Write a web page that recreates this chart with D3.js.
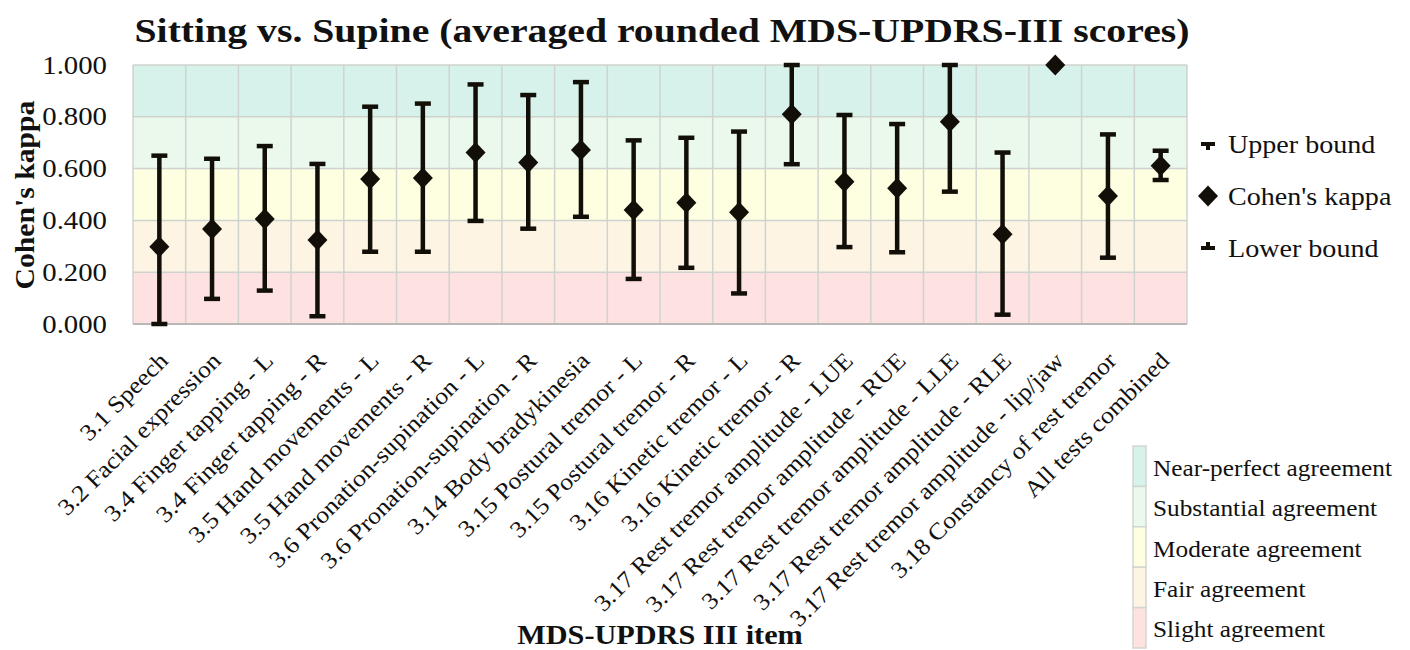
<!DOCTYPE html>
<html lang="en">

<head>
    <meta charset="utf-8" />
    <title>Sitting vs. Supine</title>
    <script src="https://cdn.jsdelivr.net/npm/d3@7"></script>

    <style>
        body {
            margin: 0;
            background: #fff;
        }

        text {
            font-family: "Liberation Serif", "Times New Roman", serif;
            fill: #111;
        }

        .axis path,
        .axis line {
            stroke: none;
        }
    </style>
</head>

<body>

</body>

<script>

    const categories = [
        '3.1 Speech', '3.2 Facial expression', '3.4 Finger tapping - L', '3.4 Finger tapping - R',
        '3.5 Hand movements - L', '3.5 Hand movements - R', '3.6 Pronation-supination - L',
        '3.6 Pronation-supination - R', '3.14 Body bradykinesia', '3.15 Postural tremor - L',
        '3.15 Postural tremor - R', '3.16 Kinetic tremor - L', '3.16 Kinetic tremor - R',
        '3.17 Rest tremor amplitude - LUE', '3.17 Rest tremor amplitude - RUE',
        '3.17 Rest tremor amplitude - LLE', '3.17 Rest tremor amplitude - RLE',
        '3.17 Rest tremor amplitude - lip/jaw', '3.18 Constancy of rest tremor', 'All tests combined'
    ];
    const kappa = [0.298, 0.367, 0.405, 0.324, 0.560, 0.564, 0.662, 0.624, 0.672, 0.440,
        0.468, 0.431, 0.810, 0.549, 0.524, 0.781, 0.347, 1.000, 0.494, 0.611];
    const lower = [0.000, 0.097, 0.129, 0.030, 0.279, 0.279, 0.398, 0.368, 0.414, 0.174,
        0.217, 0.118, 0.617, 0.297, 0.277, 0.511, 0.036, null, 0.256, 0.556];
    const upper = [0.650, 0.638, 0.687, 0.618, 0.839, 0.851, 0.925, 0.884, 0.934, 0.709,
        0.719, 0.743, 1.000, 0.807, 0.772, 1.000, 0.662, null, 0.732, 0.669];

    const yTicks = [0, 0.2, 0.4, 0.6, 0.8, 1.0];
    const bandLabels = ['Near-perfect agreement', 'Substantial agreement', 'Moderate agreement', 'Fair agreement', 'Slight agreement'];
    const bandFrom = [0.8, 0.6, 0.4, 0.2, 0.0];
    const bandTo = [1.0, 0.8, 0.6, 0.4, 0.2];
    const bandColors = ['#d7f2ea', '#ebf8ec', '#fefee0', '#fdf4e3', '#fee1e1'];

    const seriesLabels = ['Upper bound', "Cohen's kappa", 'Lower bound'];

    const width = 1410, height = 650;
    const plot = { left: 133, right: 1187, top: 65, bottom: 324 };
    const ink = '#120f08';

    // the source font is a wide Palatino-like serif: stretch glyphs a bit
    function widen(sel, f) {
        sel.each(function () {
            let w = this.getComputedTextLength();
            d3.select(this)
                .attr('textLength', w * f)
                .attr('lengthAdjust', 'spacingAndGlyphs');
        });
    }

    let svg = d3.select('body')
        .append('svg')
        .attr('width', width)
        .attr('height', height);

    let x = d3.scaleBand()
        .domain(categories)
        .range([plot.left, plot.right]);

    let y = d3.scaleLinear()
        .domain([0, 1])
        .range([plot.bottom, plot.top]);

    // agreement bands
    svg.selectAll('.band')
        .data(bandLabels)
        .enter().append('rect')
        .attr('class', 'band')
        .attr('x', plot.left)
        .attr('width', plot.right - plot.left)
        .attr('y', (d, i) => y(bandTo[i]))
        .attr('height', (d, i) => y(bandFrom[i]) - y(bandTo[i]))
        .style('fill', (d, i) => bandColors[i]);

    // grid
    svg.selectAll('.hgrid')
        .data(yTicks)
        .enter().append('line')
        .attr('x1', plot.left)
        .attr('x2', plot.right)
        .attr('y1', d => y(d))
        .attr('y2', d => y(d))
        .style('stroke', '#cfd3cf')
        .style('stroke-width', '1.5px');

    svg.selectAll('.vgrid')
        .data(categories.concat([null]))
        .enter().append('line')
        .attr('x1', (d, i) => plot.left + i * x.bandwidth())
        .attr('x2', (d, i) => plot.left + i * x.bandwidth())
        .attr('y1', plot.top)
        .attr('y2', plot.bottom)
        .style('stroke', '#cfd3cf')
        .style('stroke-width', '1.5px');

    svg.append('line')
        .attr('x1', plot.left)
        .attr('x2', plot.right)
        .attr('y1', plot.bottom)
        .attr('y2', plot.bottom)
        .style('stroke', '#b8b8b8')
        .style('stroke-width', '2px');

    // y axis
    let yAxis = d3.axisLeft(y)
        .tickValues(yTicks)
        .tickFormat(d3.format('.3f'))
        .tickSize(0)
        .tickPadding(26);

    svg.append('g')
        .attr('class', 'axis')
        .attr('transform', `translate(${plot.left},0)`)
        .call(yAxis)
        .selectAll('text')
        .style('font-size', '25px')
        .style('font-family', '"Liberation Serif", serif')
        .style('fill', '#111')
        .call(widen, 1.15);

    // x axis with rotated labels
    let xAxis = d3.axisBottom(x).tickSize(0);

    svg.append('g')
        .attr('class', 'axis')
        .attr('transform', `translate(0,${plot.bottom})`)
        .call(xAxis)
        .selectAll('text')
        .attr('x', 0)
        .attr('y', 0)
        .attr('dy', 0)
        .attr('transform', 'translate(10,38) rotate(-45)')
        .style('text-anchor', 'end')
        .style('font-size', '23.5px')
        .style('font-family', '"Liberation Serif", serif')
        .style('fill', '#111')
        .call(widen, 1.1);

    // error bars
    let cx = d => x(d) + x.bandwidth() / 2;
    let bars = svg.selectAll('.err')
        .data(categories.filter((d, i) => lower[i] !== null))
        .enter().append('g')
        .attr('class', 'err');

    bars.append('line')
        .attr('x1', cx)
        .attr('x2', cx)
        .attr('y1', d => y(lower[categories.indexOf(d)]))
        .attr('y2', d => y(upper[categories.indexOf(d)]))
        .style('stroke', ink)
        .style('stroke-width', '4.5px');

    [lower, upper].forEach(arr => {
        bars.append('line')
            .attr('x1', d => cx(d) - 8)
            .attr('x2', d => cx(d) + 8)
            .attr('y1', d => y(arr[categories.indexOf(d)]))
            .attr('y2', d => y(arr[categories.indexOf(d)]))
            .style('stroke', ink)
            .style('stroke-width', '4.5px');
    });

    // diamonds
    let diamond = (px, py) => `M${px},${py - 10.5}L${px + 10},${py}L${px},${py + 10.5}L${px - 10},${py}Z`;

    svg.selectAll('.kappa')
        .data(categories)
        .enter().append('path')
        .attr('class', 'kappa')
        .attr('d', (d, i) => diamond(cx(d), y(kappa[i])))
        .style('fill', ink);

    // title & axis titles
    svg.append('text')
        .attr('x', 662)
        .attr('y', 42)
        .attr('text-anchor', 'middle')
        .attr('textLength', 1055)
        .attr('lengthAdjust', 'spacingAndGlyphs')
        .style('font-size', '33px')
        .style('font-weight', 'bold')
        .text('Sitting vs. Supine (averaged rounded MDS-UPDRS-III scores)');

    svg.append('text')
        .attr('transform', 'translate(34,195) rotate(-90)')
        .attr('text-anchor', 'middle')
        .style('font-size', '28px')
        .style('font-weight', 'bold')
        .text("Cohen's kappa")
        .call(widen, 1.06);

    svg.append('text')
        .attr('x', 660)
        .attr('y', 644)
        .attr('text-anchor', 'middle')
        .style('font-size', '28px')
        .style('font-weight', 'bold')
        .text('MDS-UPDRS III item')
        .call(widen, 1.08);

    // series legend
    let sLeg = svg.selectAll('.sleg')
        .data(seriesLabels)
        .enter().append('g')
        .attr('class', 'sleg')
        .attr('transform', (d, i) => `translate(1208,${144 + i * 52})`);

    sLeg.append('text')
        .attr('x', 20)
        .attr('dy', '0.34em')
        .style('font-size', '26px')
        .text(d => d)
        .call(widen, 1.08);

    sLeg.filter((d, i) => i !== 1).append('line')
        .attr('x1', -7).attr('x2', 7)
        .attr('y1', 0).attr('y2', 0)
        .style('stroke', ink)
        .style('stroke-width', '4px');

    sLeg.filter((d, i) => i !== 1).append('line')
        .attr('x1', 0).attr('x2', 0)
        .attr('y1', 0).attr('y2', (d, i) => i === 0 ? 6 : -6)
        .style('stroke', ink)
        .style('stroke-width', '4px');

    sLeg.filter((d, i) => i === 1).append('path')
        .attr('d', diamond(0, 0))
        .style('fill', ink);

    // agreement legend
    let bLeg = svg.selectAll('.bleg')
        .data(bandLabels)
        .enter().append('g')
        .attr('class', 'bleg')
        .attr('transform', (d, i) => `translate(1133,${446 + i * 40.4})`);

    bLeg.append('rect')
        .attr('width', 13)
        .attr('height', 40.4)
        .style('fill', (d, i) => bandColors[i])
        .style('stroke', '#d2d6d2')
        .style('stroke-width', '1.5px');

    bLeg.append('text')
        .attr('x', 20)
        .attr('y', 22)
        .attr('dy', '0.34em')
        .style('font-size', '23px')
        .text(d => d)
        .call(widen, 1.1);

</script>

</html>
